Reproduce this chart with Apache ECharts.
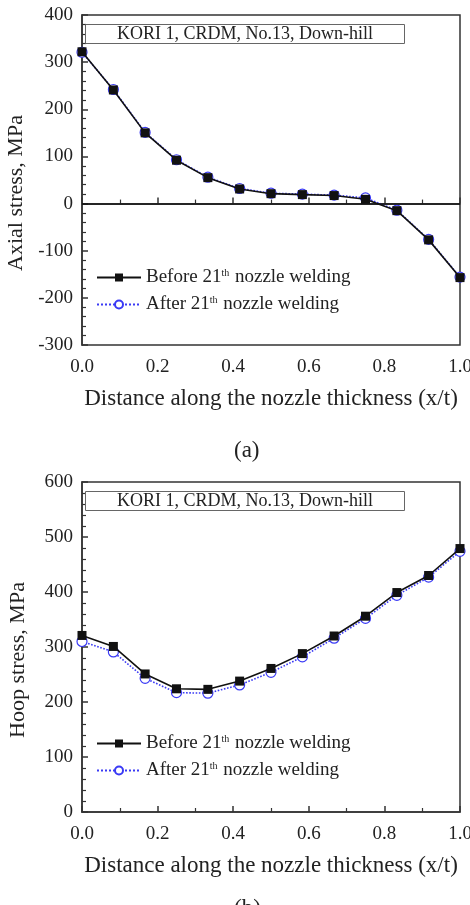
<!DOCTYPE html>
<html>
<head>
<meta charset="utf-8">
<title>KORI 1 CRDM No.13 stress</title>
<script src="https://cdn.jsdelivr.net/npm/echarts@6/dist/echarts.min.js"></script>
<style>
    html, body { margin: 0; padding: 0; background: #fff; }
    #main { width: 470px; height: 905px; }
</style>
</head>
<body>
<div id="main"></div>
<script>
// x/t positions of the 13 nodes
var xPos = [0, 0.083, 0.167, 0.25, 0.333, 0.417, 0.5, 0.583, 0.667, 0.75, 0.833, 0.917, 1.0];

// (a) axial stress, MPa
var axialBefore = [322, 241, 150, 92, 55, 31, 21, 19, 17, 9, -15, -77, -157];
var axialAfter  = [321, 242, 151, 93, 56, 32, 22, 20, 18, 12, -14, -76, -156];

// (b) hoop stress, MPa
var hoopBefore = [321, 301, 251, 224, 223, 238, 261, 288, 320, 356, 399, 430, 479];
var hoopAfter  = [310, 291, 243, 217, 216, 231, 254, 282, 316, 352, 394, 427, 474];

var nameBefore = 'Before 21th nozzle welding';
var nameAfter = 'After 21th nozzle welding';
var caseText = 'KORI 1, CRDM, No.13, Down-hill';

var font = 'Liberation Serif';
var ink = '#222';

function pairs(ys) {
    var out = [];
    for (var i = 0; i < xPos.length; i++) {
        out.push([xPos[i], ys[i]]);
    }
    return out;
}

function legendFmt(name) {
    if (name == nameBefore) {
        return '{n|Before 21}{s|th}{n| nozzle welding}';
    }
    return '{n|After 21}{s|th}{n| nozzle welding}';
}

function makeX(idx) {
    return {
        type: 'value', gridIndex: idx, min: 0, max: 1, interval: 0.2,
        name: 'Distance along the nozzle thickness (x/t)',
        nameLocation: 'middle', nameGap: 42,
        nameTextStyle: { fontFamily: font, fontSize: 23, color: ink },
        axisLine: { lineStyle: { color: '#333', width: 1.5 } },
        axisTick: { inside: true, length: 6, lineStyle: { color: '#333', width: 1.5 } },
        minorTick: { show: true, splitNumber: 2, length: 4, lineStyle: { color: '#333', width: 1.2 } },
        splitLine: { show: false },
        axisLabel: {
            fontFamily: font, fontSize: 19, color: ink, margin: 13,
            formatter: function (v) { return v.toFixed(1); }
        }
    };
}

function makeY(idx, min, max, title) {
    return {
        type: 'value', gridIndex: idx, min: min, max: max, interval: 100,
        name: title, nameLocation: 'middle', nameGap: 53,
        nameTextStyle: { fontFamily: font, fontSize: 22, color: ink, padding: [0, 26, 0, 0] },
        axisLine: { show: true, lineStyle: { color: '#333', width: 1.5 } },
        axisTick: { inside: true, length: 6, lineStyle: { color: '#333', width: 1.5 } },
        minorTick: { show: true, splitNumber: 5, length: 4, lineStyle: { color: '#333', width: 1.2 } },
        splitLine: { show: false },
        axisLabel: { fontFamily: font, fontSize: 19, color: ink, margin: 9 }
    };
}

function makeSeries(idx, before, after, zeroLine) {
    var s1 = {
        name: nameBefore, type: 'line', xAxisIndex: idx, yAxisIndex: idx,
        data: pairs(before),
        symbol: 'rect', symbolSize: 9, z: 3,
        lineStyle: { color: '#111', width: 1.6 },
        itemStyle: { color: '#111' }
    };
    if (zeroLine) {
        s1.markLine = {
            silent: true, symbol: 'none', label: { show: false },
            lineStyle: { color: '#111', width: 1.5, type: 'solid' },
            data: [{ yAxis: 0 }]
        };
    }
    var s2 = {
        name: nameAfter, type: 'line', xAxisIndex: idx, yAxisIndex: idx,
        data: pairs(after),
        symbol: 'circle', symbolSize: 10, z: 2,
        lineStyle: { color: '#3a3af5', width: 1.6, type: 'dotted' },
        itemStyle: { color: '#fff', borderColor: '#3a3af5', borderWidth: 1.2 }
    };
    return [s1, s2];
}

function makeLegend(top) {
    return {
        left: 91, top: top, orient: 'vertical', itemGap: 8,
        itemWidth: 44, itemHeight: 10,
        data: [nameBefore, nameAfter],
        formatter: legendFmt,
        textStyle: {
            rich: {
                n: { fontFamily: font, fontSize: 19, color: ink },
                s: { fontFamily: font, fontSize: 10, color: ink, verticalAlign: 'top', padding: [0, 1, 9, 0] }
            }
        }
    };
}

function makeBox(top) {
    return {
        text: caseText, left: 85, top: top,
        padding: [1, 32, 1, 32],
        borderWidth: 1, borderColor: '#666',
        textStyle: { fontFamily: font, fontSize: 18, fontWeight: 'normal', color: ink }
    };
}

var myChart = echarts.init(document.getElementById('main'));

var option = {
    animation: false,
    backgroundColor: '#fff',
    title: [
        makeBox(24),
        makeBox(491),
        { text: '(a)', left: 229, top: 434, textStyle: { fontFamily: font, fontSize: 23, fontWeight: 'normal', color: ink } },
        { text: '(b)', left: 229, top: 892, textStyle: { fontFamily: font, fontSize: 23, fontWeight: 'normal', color: ink } }
    ],
    legend: [makeLegend(263), makeLegend(729)],
    grid: [
        { left: 82, top: 15, width: 378, height: 330, outerBoundsMode: 'none', show: true, borderWidth: 1.5, borderColor: '#333' },
        { left: 82, top: 482, width: 378, height: 330, outerBoundsMode: 'none', show: true, borderWidth: 1.5, borderColor: '#333' }
    ],
    xAxis: [makeX(0), makeX(1)],
    yAxis: [makeY(0, -300, 400, 'Axial stress, MPa'), makeY(1, 0, 600, 'Hoop stress, MPa')],
    series: makeSeries(0, axialBefore, axialAfter, true).concat(makeSeries(1, hoopBefore, hoopAfter, false))
};

myChart.setOption(option);
</script>
</body>
</html>
